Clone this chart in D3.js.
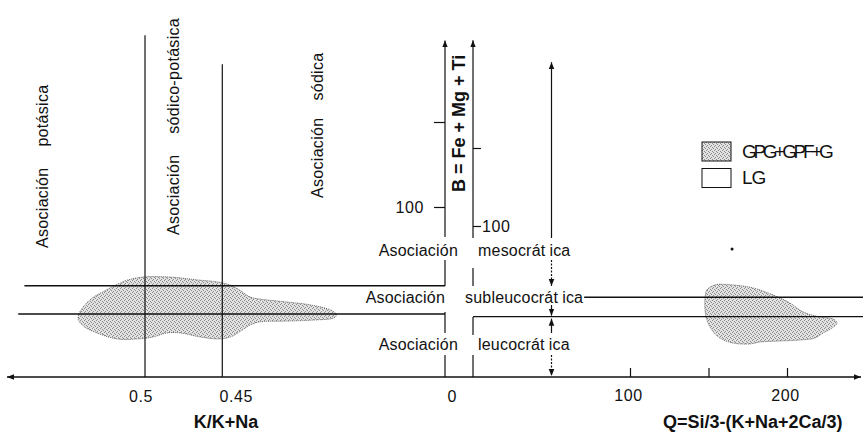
<!DOCTYPE html>
<html>
<head>
<meta charset="utf-8">
<script src="https://cdn.jsdelivr.net/npm/d3@7"></script>
<style>
  body { margin: 0; background: #fff; }
  text { font-family: "Liberation Sans", Arial, Helvetica, sans-serif; fill: #111; }
</style>
</head>
<body>
<svg id="chart" width="863" height="433"></svg>
<script>
// left panel: K/(K+Na), reversed axis
var kTicks = [0.5, 0.45];
var kTickLabels = ["0.5", "0.45"];
var kLineTops = [201, 184];          // B where the 0.5 / 0.45 lines stop
// right panel: Q
var qTicks = [100, 150, 200];
var qTickLabels = ["100", "", "200"];
// B axis
var bTicks = [100, 150];
var bTickLabels = ["100", ""];
// sub-leucocratic limits (B)
var bLimitsLeft = [53.7, 37.1];
var bLimitsRight = [54.3, 41.9];
var qArrow = 50;

// GPG+GPF+G field, left panel (K/K+Na, B)
var blobLeftK = [0.543, 0.540, 0.534, 0.525, 0.516, 0.511, 0.501, 0.484, 0.466, 0.453, 0.445, 0.439,
  0.432, 0.426, 0.408, 0.393, 0.380, 0.376, 0.378, 0.391, 0.408, 0.426, 0.432, 0.439, 0.445, 0.453,
  0.464, 0.477, 0.486, 0.495, 0.505, 0.518, 0.531, 0.539, 0.543];
var blobLeftB = [36.5, 41.2, 46.5, 51.2, 55.3, 57.1, 58.8, 58.8, 57.1, 55.9, 54.1, 51.2,
  47.1, 45.9, 44.1, 42.4, 39.4, 36.5, 34.7, 33.5, 32.9, 32.4, 30.6, 26.5, 23.5, 22.4,
  23.5, 25.9, 25.9, 23.5, 22.4, 22.4, 25.9, 29.4, 33.5];
// GPG+GPF+G field, right panel (Q, B)
var blobRightQ = [147.8, 149.0, 154.1, 165.6, 178.3, 191.1, 201.9, 210.2, 221.0, 229.3, 231.8, 228.7,
  222.9, 217.8, 208.3, 195.5, 182.8, 176.4, 165.6, 157.3, 152.2, 149.0, 147.8];
var blobRightB = [53.8, 59.0, 62.2, 62.2, 60.3, 55.8, 50.6, 44.9, 41.7, 40.4, 37.8, 34.6,
  31.4, 28.2, 26.9, 26.3, 25.6, 24.4, 25.0, 28.2, 33.3, 39.7, 46.2];
// single LG sample
var lgPointQ = [165];
var lgPointB = [85.3];
var legendItems = ["GPG+GPF+G", "LG"];

var svg = d3.select("#chart");
var ink = "#111";
var fs = 16;

var xL = d3.scaleLinear().domain([0.5, 0.45]).range([145, 222.3]);
var yL = d3.scaleLinear().domain([0, 150]).range([377, 122]);
var xR = d3.scaleLinear().domain([0, 200]).range([473, 787]);
var yR = d3.scaleLinear().domain([100, 150]).range([226, 148]);
var baseY = yL(0);
var axisLx = 445, axisRx = xR(0);

var defs = svg.append("defs");
defs.append("marker")
    .attr("id", "arr")
    .attr("viewBox", "0 0 10 10")
    .attr("refX", 10).attr("refY", 5)
    .attr("markerWidth", 7).attr("markerHeight", 7)
    .attr("markerUnits", "userSpaceOnUse")
    .attr("orient", "auto-start-reverse")
    .append("path").attr("d", "M0,1L10,5L0,9Z").attr("fill", ink);

// stipple for the granite field
var pat = defs.append("pattern")
    .attr("id", "stip")
    .attr("width", 4).attr("height", 4)
    .attr("patternUnits", "userSpaceOnUse");
pat.append("rect").attr("width", 4).attr("height", 4).attr("fill", "#e2e2e2");
[[0, 0], [2, 1], [1, 3], [3, 2]].forEach(function (p) {
    pat.append("rect").attr("x", p[0]).attr("y", p[1]).attr("width", 1).attr("height", 1).attr("fill", "#8a8a8a");
});

var blob = d3.line().curve(d3.curveCatmullRomClosed);

svg.append("path")
    .attr("d", blob(blobLeftK.map(function (k, i) { return [xL(k), yL(blobLeftB[i])]; })))
    .attr("fill", "url(#stip)")
    .attr("stroke", "#555").attr("stroke-width", 0.9).attr("stroke-dasharray", "1,1");

svg.append("path")
    .attr("d", blob(blobRightQ.map(function (q, i) { return [xR(q), yR(blobRightB[i])]; })))
    .attr("fill", "url(#stip)")
    .attr("stroke", "#555").attr("stroke-width", 0.9).attr("stroke-dasharray", "1,1");

svg.selectAll(".lgpt")
    .data(lgPointQ)
    .enter().append("circle")
    .attr("cx", function (d) { return xR(d); })
    .attr("cy", function (d, i) { return yR(lgPointB[i]); })
    .attr("r", 1.5)
    .attr("fill", ink);

function seg(x1, y1, x2, y2, arrow, dash) {
    var l = svg.append("line")
        .attr("x1", x1).attr("y1", y1).attr("x2", x2).attr("y2", y2)
        .attr("stroke", ink).attr("stroke-width", 1.2);
    if (arrow) l.attr("marker-end", "url(#arr)");
    if (dash) l.attr("stroke-dasharray", dash);
    return l;
}

// base line, arrows both ways
svg.append("line")
    .attr("x1", 7).attr("y1", baseY).attr("x2", 861).attr("y2", baseY)
    .attr("stroke", ink).attr("stroke-width", 1.3)
    .attr("marker-start", "url(#arr)").attr("marker-end", "url(#arr)");

// B axes, broken where the association labels run across
function brokenAxis(x, top, gaps) {
    seg(x, gaps[0][0], x, top, true);
    for (var i = 0; i < gaps.length; i++) {
        var y2 = i + 1 < gaps.length ? gaps[i + 1][0] : baseY;
        seg(x, gaps[i][1], x, y2, false);
    }
}
brokenAxis(axisLx, yL(198), [[237, 260], [286, 312], [333, 355]]);
brokenAxis(axisRx, yR(219), [[238, 268], [286, 317], [335, 355]]);

// vertical K lines
kTicks.forEach(function (k, i) {
    seg(xL(k), yL(kLineTops[i]), xL(k), baseY, false);
});

// sub-leucocratic limits
seg(xL(0.578), yL(bLimitsLeft[0]), axisLx, yL(bLimitsLeft[0]), false).attr("stroke-width", 1.4);
seg(xL(0.582), yL(bLimitsLeft[1]), axisLx, yL(bLimitsLeft[1]), false).attr("stroke-width", 1.4);
seg(axisRx, yR(bLimitsRight[1]), 863, yR(bLimitsRight[1]), false).attr("stroke-width", 1.4);

// Q = 50 arrow
var qa = xR(qArrow);
seg(qa, 238, qa, yR(205), true);
seg(qa, 260, qa, 286, true, "2,1.5");
seg(qa, 305, qa, yR(bLimitsRight[1]) - 1, true);
seg(qa, 333, qa, yR(bLimitsRight[1]) + 2, true);
seg(qa, 355, qa, baseY - 1, true, "2,1.5");

// axes ticks
var axL = svg.append("g")
    .attr("transform", "translate(" + axisLx + ",0)")
    .call(d3.axisLeft(yL).tickValues(bTicks).tickSize(11).tickPadding(10)
        .tickFormat(function (d, i) { return bTickLabels[i]; }));
var axR = svg.append("g")
    .attr("transform", "translate(" + axisRx + ",0)")
    .call(d3.axisRight(yR).tickValues(bTicks).tickSize(8).tickPadding(1)
        .tickFormat(function (d, i) { return bTickLabels[i]; }));
var axQ = svg.append("g")
    .attr("transform", "translate(0," + baseY + ")")
    .call(d3.axisBottom(xR).tickValues(qTicks).tickSize(-9).tickPadding(13)
        .tickFormat(function (d, i) { return qTickLabels[i]; }));
[axL, axR, axQ].forEach(function (g) {
    g.select(".domain").remove();
    g.attr("font-family", null).attr("font-size", fs).attr("color", ink);
    g.selectAll("line").attr("stroke-width", 1.2);
    g.selectAll("text").attr("letter-spacing", 0.6);
});
axQ.selectAll("text").attr("dx", -2);

// K tick labels and Q zero
var labY = baseY + 24.5;
svg.append("text").attr("x", xL(kTicks[0]) - 4).attr("y", labY)
    .attr("text-anchor", "middle").attr("font-size", fs).attr("letter-spacing", 0.6).text(kTickLabels[0]);
svg.append("text").attr("x", xL(kTicks[1]) + 14).attr("y", labY)
    .attr("text-anchor", "middle").attr("font-size", fs).attr("letter-spacing", 0.6).text(kTickLabels[1]);
svg.append("text").attr("x", axisRx - 21).attr("y", labY)
    .attr("text-anchor", "middle").attr("font-size", fs).text("0");

// axis titles
svg.append("text").attr("x", 226).attr("y", 428)
    .attr("text-anchor", "middle").attr("font-size", 18).attr("font-weight", "bold").text("K/K+Na");
svg.append("text").attr("x", 663).attr("y", 428)
    .attr("font-size", 18).attr("font-weight", "bold").text("Q=Si/3-(K+Na+2Ca/3)");
svg.append("text")
    .attr("transform", "translate(464.5,192) rotate(-90)")
    .attr("font-size", 18).attr("font-weight", "bold").text("B = Fe + Mg + Ti");

// vertical association labels
function vlabel(x, y, second, gap) {
    var t = svg.append("text")
        .attr("transform", "translate(" + x + "," + y + ") rotate(-90)")
        .attr("font-size", fs).attr("letter-spacing", 0.3);
    t.append("tspan").text("Asociación");
    t.append("tspan").attr("dx", gap).text(second);
}
vlabel(xL(0.5627), yL(75.9), "potásica", 21);
vlabel(xL(0.4780), yL(83.5), "sódico-potásica", 21);
vlabel(xL(0.3848), yL(105.3), "sódica", 17);

// horizontal association labels
function hlabel(endFirst, startSecond, y, stem) {
    svg.append("text").attr("x", endFirst).attr("y", y)
        .attr("text-anchor", "end").attr("font-size", fs).attr("letter-spacing", 0.2)
        .text("Asociación");
    var t = svg.append("text").attr("x", startSecond).attr("y", y)
        .attr("font-size", fs).attr("letter-spacing", 0.2);
    t.append("tspan").text(stem);
    t.append("tspan").attr("dx", 4).text("ica");
    return t;
}
hlabel(458, axisRx + 5, 256, "mesocrát");
var sub = hlabel(445, axisRx - 8, 303, "subleucocrát");
hlabel(458, axisRx + 5, 350, "leucocrát");

// upper right limit starts where the subleucocrática label ends
var sb = sub.node().getBBox();
seg(sb.x + sb.width + 1, yR(bLimitsRight[0]), 863, yR(bLimitsRight[0]), false).attr("stroke-width", 1.4);

// legend
var leg = svg.append("g").attr("transform", "translate(702,142)");
leg.selectAll("rect")
    .data(legendItems)
    .enter().append("rect")
    .attr("x", 0)
    .attr("y", function (d, i) { return i * 26.5; })
    .attr("width", 29).attr("height", 19)
    .attr("fill", function (d, i) { return i === 0 ? "url(#stip)" : "#fff"; })
    .attr("stroke", ink).attr("stroke-width", 1);
leg.selectAll("text")
    .data(legendItems)
    .enter().append("text")
    .attr("x", 40)
    .attr("y", function (d, i) { return 16 + i * 26; })
    .attr("font-size", 19)
    .attr("letter-spacing", function (d, i) { return i === 0 ? -3.3 : -1; })
    .text(function (d) { return d; });
</script>
</body>
</html>
